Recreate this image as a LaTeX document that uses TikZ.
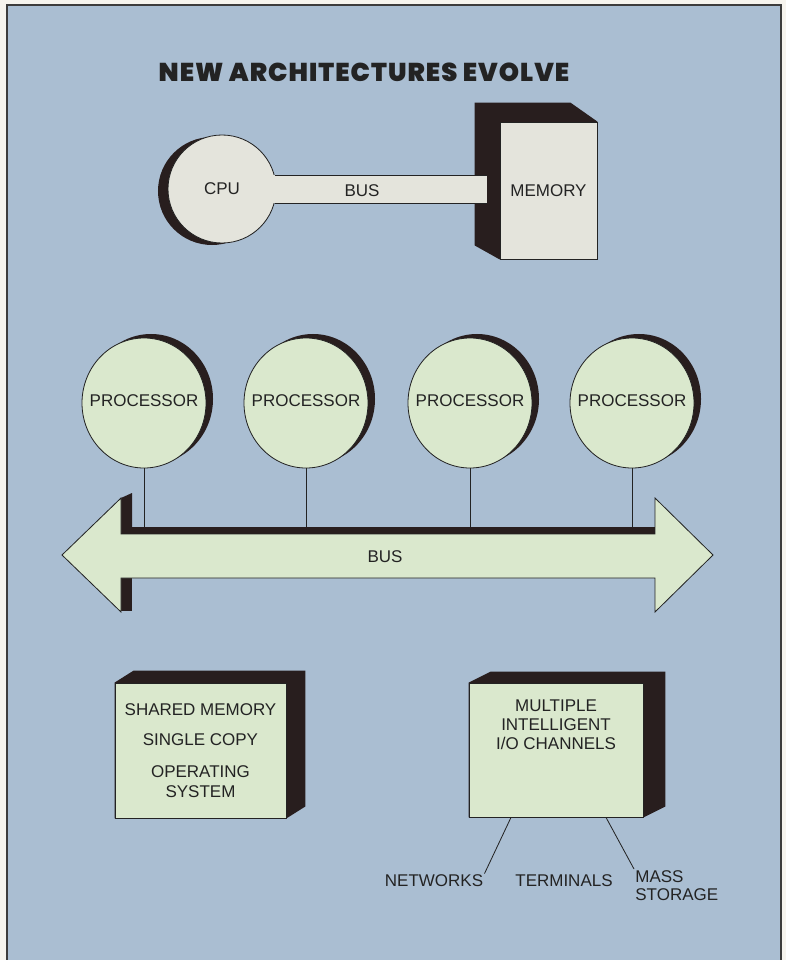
\documentclass[tikz,border=0pt]{standalone}
\usepackage{fontspec}
\setmainfont{Liberation Sans}
\newfontfamily\titlefont{Poppins Black}[LetterSpace=4]
\usetikzlibrary{shapes.geometric,shadows,calc,positioning,backgrounds}

\definecolor{paper}{RGB}{246,244,238}
\definecolor{bgblue}{RGB}{170,190,210}
\definecolor{framegrey}{RGB}{60,60,60}
\definecolor{procgreen}{RGB}{218,232,205}
\definecolor{cpufill}{RGB}{228,228,220}
\definecolor{darkside}{RGB}{40,30,30}
\definecolor{ink}{RGB}{35,35,35}

\tikzset{
  lbl/.style={text=ink, font=\fontsize{14.5}{15.5}\selectfont, inner sep=1pt},
  proc/.style={ellipse, draw=ink, line width=0.7pt, fill=procgreen, text=ink,
    font=\fontsize{14.5}{17}\selectfont,
    minimum width=3.72cm, minimum height=3.9cm, inner sep=0pt,
    drop shadow={shadow xshift=0.21cm, shadow yshift=0.12cm, fill=darkside, opacity=1}},
  iobox/.style={rectangle, draw=ink, line width=0.7pt, fill=procgreen, text=ink,
    font=\fontsize{14.5}{17}\selectfont, align=center, inner sep=0pt},
  link/.style={draw=ink, line width=0.7pt}
}

\begin{document}
\begin{tikzpicture}[x=0.03cm, y=-0.03cm]
  \useasboundingbox (0,0) rectangle (786,960);
  \begin{scope}[on background layer]
    \fill[paper] (0,0) rectangle (786,960);
    \filldraw[fill=bgblue, draw=framegrey, line width=1.5pt] (7,5) rectangle (781,975);
  \end{scope}

  % title
  \node[text=ink, font=\titlefont\fontsize{22}{26}\selectfont] (title) at (364,72) {NEW ARCHITECTURES EVOLVE};

  % old architecture: cpu, bus, memory
  \node[circle, draw=ink, line width=0.7pt, fill=cpufill, text=ink, minimum size=3.24cm,
    inner sep=0pt, font=\fontsize{14.5}{17}\selectfont,
    drop shadow={shadow xshift=-0.3cm, shadow yshift=-0.06cm, fill=darkside, opacity=1}] (cpu) at (222,189) {CPU};
  \coordinate (barend) at (487,189);
  \fill[cpufill] ($(cpu.15)+(-12,0)$) rectangle (barend |- cpu.-15);
  \draw[link] (cpu.15) -- (barend |- cpu.15);
  \draw[link] (cpu.-15) -- (barend |- cpu.-15);
  \node[lbl] (bus1) at (362,191) {BUS};
  \node[rectangle, draw=ink, line width=0.7pt, fill=cpufill, text=ink, inner sep=0pt,
    minimum width=2.91cm, minimum height=4.11cm, font=\fontsize{14.5}{17}\selectfont] (mem) at (548.5,190.5) {MEMORY};
  \begin{scope}[on background layer]
    \fill[darkside] (mem.north east) -- ++(-27,-19) -- ($(mem.north west)+(-25,-19)$)
      -- ($(mem.south west)+(-25,-14)$) -- (mem.south west) -- (mem.south east) -- cycle;
  \end{scope}

  % processors
  \foreach \x/\n in {144/1,306/2,470/3,632/4}
    \node[proc] (p\n) at (\x,403) {\makebox[0pt]{\raisebox{5pt}{PROCESSOR}}};
  \coordinate (bustop) at (0,528);
  \coordinate (busbot) at (0,578);
  \foreach \n in {1,...,4}
    \draw[link] (p\n.south) -- (p\n.south |- bustop);

  % shared bus
  \fill[darkside] (121,498) -- (132,493) -- (132,527) -- (655,527) -- (655,534) -- (121,534) -- cycle;
  \fill[darkside] (121,578) rectangle (132,611);
  \filldraw[fill=procgreen, draw=ink, line width=0.7pt]
    (62,555) -- (121,498) -- (121,534) -- (655,534) -- (655,498) -- (713,555)
    -- (655,612) -- (655,578) -- (121,578) -- (121,612) -- cycle;
  \node[lbl] (bus2) at (385,557) {BUS};

  % memory and i/o boxes
  \node[iobox, minimum width=5.13cm, minimum height=4.05cm] (sm) at (200.5,750.5)
    {SHARED MEMORY\\[8.5pt]SINGLE COPY\\[10pt]OPERATING\\SYSTEM};
  \node[iobox, minimum width=5.22cm, minimum height=4.02cm] (io) at (556,750) {};
  \node[lbl, align=center, anchor=north, font=\fontsize{14.5}{16}\selectfont] (iotxt)
    at ($(io.north)+(0,16)$) {MULTIPLE\\INTELLIGENT\\I/O CHANNELS};
  \begin{scope}[on background layer]
    \fill[darkside] (sm.north west) -- ++(19,-12) -- ($(sm.north east)+(19,-12)$)
      -- ($(sm.south east)+(19,-12)$) -- (sm.south east) -- (sm.south west) -- cycle;
    \fill[darkside] (io.north west) -- ++(22,-11) -- ($(io.north east)+(22,-11)$)
      -- ($(io.south east)+(22,-11)$) -- (io.south east) -- (io.south west) -- cycle;
  \end{scope}
  \draw[link] ($(sm.north)+(2,0)$) -- ($(sm.north)+(2,0)$ |- busbot);
  \draw[link] ($(io.north)+(2,0)$) -- ($(io.north)+(2,0)$ |- busbot);

  % i/o devices
  \node[lbl] (net) at (434,881) {NETWORKS};
  \node[lbl] (term) at (564,881) {TERMINALS};
  \node[lbl, align=left, anchor=north west] (mass) at (634,869) {MASS\\STORAGE};
  \draw[link] ($(io.south)+(-45,0)$) -- (net.north east);
  \draw[link] ($(io.south)+(2,0)$) -- ($(io.south)+(2,0)$ |- term.north);
  \draw[link] ($(io.south)+(50,0)$) -- (mass.north west);
\end{tikzpicture}
\end{document}
